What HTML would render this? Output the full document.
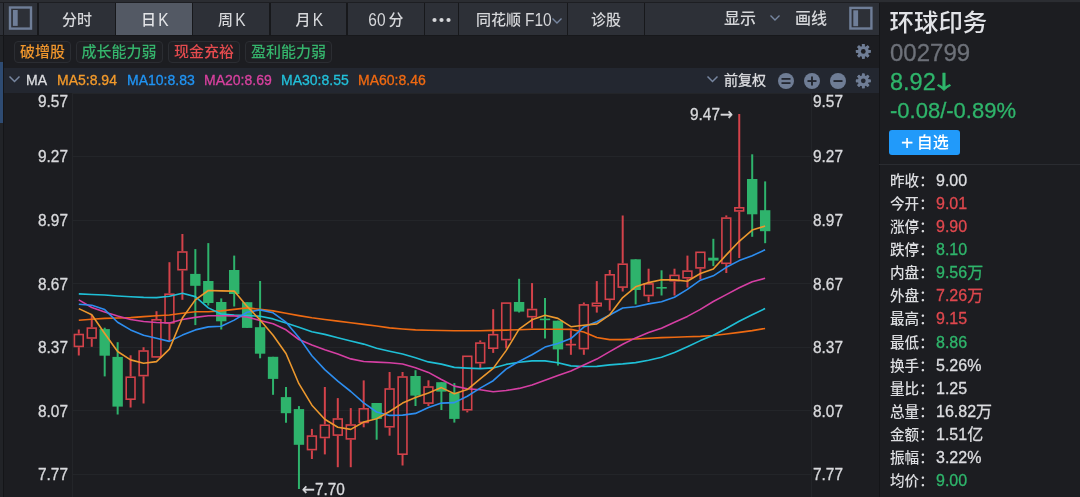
<!DOCTYPE html>
<html lang="zh-CN"><head><meta charset="utf-8"><title>环球印务 002799</title>
<style>
*{margin:0;padding:0;box-sizing:border-box}
html,body{width:1080px;height:497px;overflow:hidden;background:#1c1d21}
body{position:relative;font-family:"Liberation Sans","Noto Sans CJK SC",sans-serif;color:#d9dadd}
.ma,.yl,.st,.rp{-webkit-text-stroke:0.3px currentColor}
.abs{position:absolute}
.tb{position:absolute;top:3px;height:32px;background:#2d3037;color:#d6d7da;font-size:15px;line-height:33px;font-weight:500;text-align:center;white-space:nowrap}
.tb.sel{background:#535964;color:#e3e4e7}
.tag{position:absolute;top:41px;height:21.5px;border:1px solid #2b2d32;border-radius:4px;font-size:15px;line-height:19.5px;font-weight:500;padding:0;text-align:center;white-space:nowrap;background:#1e1f23}
.ma{position:absolute;top:68px;font-size:14px;line-height:25px;white-space:nowrap}
.yl{position:absolute;font-size:15.4px;line-height:15px;height:15px;color:#d8d9dc;white-space:nowrap;transform:scaleY(1.1);transform-origin:50% 50%}
.st{position:absolute;left:890px;font-size:16px;line-height:20px;white-space:nowrap;color:#dcdde0}
.st b{font-size:14.6px}
.st b{font-weight:500;display:inline-block;width:46px;-webkit-text-stroke:0}
.arr{font-family:'DejaVu Sans',sans-serif}
.cjarr{font-family:'Noto Sans CJK SC',sans-serif;font-weight:500;font-size:20px;line-height:26px;display:inline-block;vertical-align:top;margin-left:-1.8px;transform:translateY(-0.75px) scale(1.45,0.95)}
.lt{font-weight:normal;font-size:15.5px;display:inline-block;transform:scaleY(1.13)}
.r{color:#e0484e}.g{color:#2fb56b}.w{color:#dcdde0}
</style></head><body>

<div class="abs" style="left:0;top:0;width:1080px;height:2px;background:#2b2d32"></div>
<div class="abs" style="left:0;top:2px;width:1080px;height:1px;background:#1d1e22"></div>
<div class="abs" style="left:0;top:3px;width:879px;height:33px;background:#17181b"></div>
<div class="abs" style="left:0;top:3px;width:3px;height:32px;background:#2d3037"></div>
<div class="tb" style="left:4px;width:33px"></div>
<svg class="abs" style="left:0;top:0" width="40" height="36"><rect x="10" y="7.5" width="21" height="21.1" fill="none" stroke="#6f7e98" stroke-width="2.4"/><rect x="12.9" y="10" width="4.8" height="15.9" fill="#6f7e98"/></svg>
<div class="tb" style="left:39px;width:76px;">分时</div>
<div class="tb sel" style="left:116px;width:76px;padding-left:1.6px;">日<span class="lt" style="margin-left:2.4px">K</span></div>
<div class="tb" style="left:193px;width:76px;padding-left:1.6px;">周<span class="lt" style="margin-left:2.4px">K</span></div>
<div class="tb" style="left:271px;width:75px;padding-left:1.6px;">月<span class="lt" style="margin-left:2.4px">K</span></div>
<div class="tb" style="left:348px;width:76px;"><span class="lt" style="margin-right:3px">60</span>分</div>
<div class="tb" style="left:425px;width:33px"></div>
<svg class="abs" style="left:425px;top:3px" width="33" height="32"><circle cx="9.5" cy="17" r="2.1" fill="#d6d7da"/><circle cx="16.5" cy="17" r="2.1" fill="#d6d7da"/><circle cx="23.5" cy="17" r="2.1" fill="#d6d7da"/></svg>
<div class="tb" style="left:459px;width:108px;text-align:left;padding-left:17px">同花顺<span class="lt" style="margin-left:4px">F10</span></div>
<svg class="abs" style="left:550.5px;top:16.5px" width="12" height="8"><polyline points="1.5,1.5 6,6 10.5,1.5" fill="none" stroke="#7786a0" stroke-width="1.4"/></svg>
<div class="tb" style="left:568px;width:76px">诊股</div>
<div class="tb" style="left:645px;width:234px"></div>
<div class="abs" style="left:724px;top:3px;font-size:16px;line-height:32px;color:#d6d7da;font-weight:500">显示</div>
<svg class="abs" style="left:769px;top:14px" width="12" height="8"><polyline points="1.5,1.5 6,6 10.5,1.5" fill="none" stroke="#7786a0" stroke-width="1.4"/></svg>
<div class="abs" style="left:795px;top:3px;font-size:16px;line-height:32px;color:#d6d7da;font-weight:500">画线</div>
<svg class="abs" style="left:845px;top:0" width="33" height="36"><rect x="5.4" y="7.9" width="21" height="20.6" fill="none" stroke="#6f7e98" stroke-width="2.4"/><rect x="8.3" y="10.3" width="4.8" height="15.9" fill="#6f7e98"/></svg>
<div class="abs" style="left:0;top:36px;width:3px;height:461px;background:#212327"></div>
<div class="abs" style="left:0;top:62px;width:2.5px;height:61px;background:#2e4b72"></div>
<div class="abs" style="left:3px;top:36px;width:1px;height:461px;background:#141518"></div>
<div class="tag" style="left:14px;width:57px;color:#f0962c">破增股</div>
<div class="tag" style="left:75.5px;width:87px;color:#35b46c">成长能力弱</div>
<div class="tag" style="left:168.3px;width:71.5px;color:#e44b4e">现金充裕</div>
<div class="tag" style="left:245px;width:87px;color:#35b46c">盈利能力弱</div>
<svg class="abs" style="left:853px;top:42px" width="20" height="20"><rect x="8.95" y="2.00" width="2.7" height="14.80" rx="0.5" fill="#6f7d95" transform="rotate(0 10.3 9.4)"/><rect x="8.95" y="2.00" width="2.7" height="14.80" rx="0.5" fill="#6f7d95" transform="rotate(45 10.3 9.4)"/><rect x="8.95" y="2.00" width="2.7" height="14.80" rx="0.5" fill="#6f7d95" transform="rotate(90 10.3 9.4)"/><rect x="8.95" y="2.00" width="2.7" height="14.80" rx="0.5" fill="#6f7d95" transform="rotate(135 10.3 9.4)"/><rect x="8.95" y="2.00" width="2.7" height="14.80" rx="0.5" fill="#6f7d95" transform="rotate(180 10.3 9.4)"/><rect x="8.95" y="2.00" width="2.7" height="14.80" rx="0.5" fill="#6f7d95" transform="rotate(225 10.3 9.4)"/><rect x="8.95" y="2.00" width="2.7" height="14.80" rx="0.5" fill="#6f7d95" transform="rotate(270 10.3 9.4)"/><rect x="8.95" y="2.00" width="2.7" height="14.80" rx="0.5" fill="#6f7d95" transform="rotate(315 10.3 9.4)"/><circle cx="10.3" cy="9.4" r="5.48" fill="#6f7d95"/><circle cx="10.3" cy="9.4" r="2.37" fill="#1c1d21"/></svg>
<div class="abs" style="left:4px;top:68px;width:875px;height:25px;background:#232730"></div>
<svg class="abs" style="left:8px;top:75px" width="13" height="9"><polyline points="1.5,1.5 6.5,6.5 11.5,1.5" fill="none" stroke="#7786a0" stroke-width="1.5"/></svg>
<div class="ma" style="left:26px;color:#dcdde0">MA</div>
<div class="ma" style="left:57px;color:#f39a2b">MA5:8.94</div>
<div class="ma" style="left:127px;color:#2094f4">MA10:8.83</div>
<div class="ma" style="left:204px;color:#d8419f">MA20:8.69</div>
<div class="ma" style="left:281px;color:#22c0da">MA30:8.55</div>
<div class="ma" style="left:358px;color:#f06a12">MA60:8.46</div>
<svg class="abs" style="left:706px;top:75px" width="13" height="9"><polyline points="1.5,1.5 6.5,6.5 11.5,1.5" fill="none" stroke="#7786a0" stroke-width="1.5"/></svg>
<div class="ma" style="left:724px;color:#dcdde0">前复权</div>
<svg class="abs" style="left:776px;top:71px" width="100" height="20"><circle cx="10" cy="10" r="8" fill="#6f7d95"/><rect x="5.5" y="7" width="9" height="1.8" fill="#232730"/><rect x="5.5" y="11.2" width="9" height="1.8" fill="#232730"/><circle cx="36" cy="10" r="8" fill="#6f7d95"/><rect x="31.5" y="9.1" width="9" height="1.9" fill="#232730"/><rect x="35.05" y="5.5" width="1.9" height="9" fill="#232730"/><circle cx="62" cy="10" r="8" fill="#6f7d95"/><rect x="57.5" y="9.1" width="9" height="1.9" fill="#232730"/><rect x="85.95" y="2.40" width="2.7" height="14.80" rx="0.5" fill="#6f7d95" transform="rotate(0 87.3 9.8)"/><rect x="85.95" y="2.40" width="2.7" height="14.80" rx="0.5" fill="#6f7d95" transform="rotate(45 87.3 9.8)"/><rect x="85.95" y="2.40" width="2.7" height="14.80" rx="0.5" fill="#6f7d95" transform="rotate(90 87.3 9.8)"/><rect x="85.95" y="2.40" width="2.7" height="14.80" rx="0.5" fill="#6f7d95" transform="rotate(135 87.3 9.8)"/><rect x="85.95" y="2.40" width="2.7" height="14.80" rx="0.5" fill="#6f7d95" transform="rotate(180 87.3 9.8)"/><rect x="85.95" y="2.40" width="2.7" height="14.80" rx="0.5" fill="#6f7d95" transform="rotate(225 87.3 9.8)"/><rect x="85.95" y="2.40" width="2.7" height="14.80" rx="0.5" fill="#6f7d95" transform="rotate(270 87.3 9.8)"/><rect x="85.95" y="2.40" width="2.7" height="14.80" rx="0.5" fill="#6f7d95" transform="rotate(315 87.3 9.8)"/><circle cx="87.3" cy="9.8" r="5.48" fill="#6f7d95"/><circle cx="87.3" cy="9.8" r="2.37" fill="#232730"/></svg>
<svg class="abs" style="left:0;top:0" width="880" height="497"><line x1="72" y1="93.5" x2="811" y2="93.5" stroke="#232529" stroke-width="1"/>
<line x1="72" y1="156.5" x2="811" y2="156.5" stroke="#232529" stroke-width="1"/>
<line x1="72" y1="220.5" x2="811" y2="220.5" stroke="#232529" stroke-width="1"/>
<line x1="72" y1="283.5" x2="811" y2="283.5" stroke="#232529" stroke-width="1"/>
<line x1="72" y1="347.5" x2="811" y2="347.5" stroke="#232529" stroke-width="1"/>
<line x1="72" y1="410.5" x2="811" y2="410.5" stroke="#232529" stroke-width="1"/>
<line x1="72" y1="474.5" x2="811" y2="474.5" stroke="#232529" stroke-width="1"/>
<line x1="72.5" y1="93" x2="72.5" y2="497" stroke="#232529" stroke-width="1"/>
<line x1="811.5" y1="93" x2="811.5" y2="497" stroke="#232529" stroke-width="1"/>
<line x1="78.80" y1="329.5" x2="78.80" y2="333.7" stroke="#d3424a" stroke-width="2"/>
<line x1="78.80" y1="347.2" x2="78.80" y2="355.5" stroke="#d3424a" stroke-width="2"/>
<rect x="74.40" y="334.50" width="8.80" height="11.90" fill="none" stroke="#d3424a" stroke-width="1.6"/>
<line x1="91.75" y1="315.0" x2="91.75" y2="327.3" stroke="#d3424a" stroke-width="2"/>
<line x1="91.75" y1="338.8" x2="91.75" y2="346.8" stroke="#d3424a" stroke-width="2"/>
<rect x="87.35" y="328.10" width="8.80" height="9.90" fill="none" stroke="#d3424a" stroke-width="1.6"/>
<line x1="104.70" y1="327.7" x2="104.70" y2="376.4" stroke="#2eb36c" stroke-width="2"/>
<rect x="99.50" y="329.10" width="10.40" height="26.60" fill="#2eb36c"/>
<line x1="117.65" y1="342.2" x2="117.65" y2="414.5" stroke="#2eb36c" stroke-width="2"/>
<rect x="112.45" y="356.90" width="10.40" height="49.70" fill="#2eb36c"/>
<line x1="130.60" y1="355.3" x2="130.60" y2="376.4" stroke="#d3424a" stroke-width="2"/>
<line x1="130.60" y1="400.0" x2="130.60" y2="407.5" stroke="#d3424a" stroke-width="2"/>
<rect x="126.20" y="377.20" width="8.80" height="22.00" fill="none" stroke="#d3424a" stroke-width="1.6"/>
<line x1="143.55" y1="347.2" x2="143.55" y2="350.2" stroke="#d3424a" stroke-width="2"/>
<line x1="143.55" y1="376.4" x2="143.55" y2="403.5" stroke="#d3424a" stroke-width="2"/>
<rect x="139.15" y="351.00" width="8.80" height="24.60" fill="none" stroke="#d3424a" stroke-width="1.6"/>
<line x1="156.50" y1="311.2" x2="156.50" y2="319.0" stroke="#d3424a" stroke-width="2"/>
<line x1="156.50" y1="357.7" x2="156.50" y2="357.7" stroke="#d3424a" stroke-width="2"/>
<rect x="152.10" y="319.80" width="8.80" height="37.10" fill="none" stroke="#d3424a" stroke-width="1.6"/>
<line x1="169.45" y1="262.2" x2="169.45" y2="293.4" stroke="#d3424a" stroke-width="2"/>
<line x1="169.45" y1="323.7" x2="169.45" y2="341.2" stroke="#d3424a" stroke-width="2"/>
<rect x="165.05" y="294.20" width="8.80" height="28.70" fill="none" stroke="#d3424a" stroke-width="1.6"/>
<line x1="182.40" y1="234.0" x2="182.40" y2="251.2" stroke="#d3424a" stroke-width="2"/>
<line x1="182.40" y1="270.5" x2="182.40" y2="299.8" stroke="#d3424a" stroke-width="2"/>
<rect x="178.00" y="252.00" width="8.80" height="17.70" fill="none" stroke="#d3424a" stroke-width="1.6"/>
<line x1="195.35" y1="249.1" x2="195.35" y2="325.1" stroke="#2eb36c" stroke-width="2"/>
<rect x="190.15" y="273.90" width="10.40" height="11.90" fill="#2eb36c"/>
<line x1="208.30" y1="243.1" x2="208.30" y2="305.5" stroke="#2eb36c" stroke-width="2"/>
<rect x="203.10" y="281.00" width="10.40" height="22.00" fill="#2eb36c"/>
<line x1="221.25" y1="298.4" x2="221.25" y2="329.5" stroke="#2eb36c" stroke-width="2"/>
<rect x="216.05" y="302.00" width="10.40" height="19.30" fill="#2eb36c"/>
<line x1="234.20" y1="255.6" x2="234.20" y2="306.5" stroke="#2eb36c" stroke-width="2"/>
<rect x="229.00" y="270.00" width="10.40" height="24.00" fill="#2eb36c"/>
<line x1="247.15" y1="302.2" x2="247.15" y2="327.9" stroke="#2eb36c" stroke-width="2"/>
<rect x="241.95" y="302.20" width="10.40" height="25.70" fill="#2eb36c"/>
<line x1="260.10" y1="281.0" x2="260.10" y2="358.3" stroke="#2eb36c" stroke-width="2"/>
<rect x="254.90" y="327.20" width="10.40" height="26.50" fill="#2eb36c"/>
<line x1="273.05" y1="356.8" x2="273.05" y2="394.8" stroke="#2eb36c" stroke-width="2"/>
<rect x="267.85" y="356.80" width="10.40" height="22.10" fill="#2eb36c"/>
<line x1="286.00" y1="387.0" x2="286.00" y2="422.8" stroke="#2eb36c" stroke-width="2"/>
<rect x="280.80" y="397.10" width="10.40" height="16.10" fill="#2eb36c"/>
<line x1="298.95" y1="406.1" x2="298.95" y2="489.0" stroke="#2eb36c" stroke-width="2"/>
<rect x="293.75" y="409.10" width="10.40" height="35.70" fill="#2eb36c"/>
<line x1="311.90" y1="428.9" x2="311.90" y2="435.3" stroke="#d3424a" stroke-width="2"/>
<line x1="311.90" y1="450.4" x2="311.90" y2="459.0" stroke="#d3424a" stroke-width="2"/>
<rect x="307.50" y="436.10" width="8.80" height="13.50" fill="none" stroke="#d3424a" stroke-width="1.6"/>
<line x1="324.85" y1="387.0" x2="324.85" y2="424.4" stroke="#d3424a" stroke-width="2"/>
<line x1="324.85" y1="438.3" x2="324.85" y2="454.4" stroke="#d3424a" stroke-width="2"/>
<rect x="320.45" y="425.20" width="8.80" height="12.30" fill="none" stroke="#d3424a" stroke-width="1.6"/>
<line x1="337.80" y1="398.1" x2="337.80" y2="418.2" stroke="#d3424a" stroke-width="2"/>
<line x1="337.80" y1="435.9" x2="337.80" y2="467.2" stroke="#d3424a" stroke-width="2"/>
<rect x="333.40" y="419.00" width="8.80" height="16.10" fill="none" stroke="#d3424a" stroke-width="1.6"/>
<line x1="350.75" y1="408.1" x2="350.75" y2="424.2" stroke="#d3424a" stroke-width="2"/>
<line x1="350.75" y1="439.7" x2="350.75" y2="467.2" stroke="#d3424a" stroke-width="2"/>
<rect x="346.35" y="425.00" width="8.80" height="13.90" fill="none" stroke="#d3424a" stroke-width="1.6"/>
<line x1="363.70" y1="380.4" x2="363.70" y2="408.0" stroke="#d3424a" stroke-width="2"/>
<line x1="363.70" y1="423.2" x2="363.70" y2="427.3" stroke="#d3424a" stroke-width="2"/>
<rect x="359.30" y="408.80" width="8.80" height="13.60" fill="none" stroke="#d3424a" stroke-width="1.6"/>
<line x1="376.65" y1="403.0" x2="376.65" y2="439.7" stroke="#2eb36c" stroke-width="2"/>
<rect x="371.45" y="403.00" width="10.40" height="15.90" fill="#2eb36c"/>
<line x1="389.60" y1="372.0" x2="389.60" y2="388.2" stroke="#d3424a" stroke-width="2"/>
<line x1="389.60" y1="427.6" x2="389.60" y2="435.7" stroke="#d3424a" stroke-width="2"/>
<rect x="385.20" y="389.00" width="8.80" height="37.80" fill="none" stroke="#d3424a" stroke-width="1.6"/>
<line x1="402.55" y1="372.0" x2="402.55" y2="376.2" stroke="#d3424a" stroke-width="2"/>
<line x1="402.55" y1="455.0" x2="402.55" y2="465.5" stroke="#d3424a" stroke-width="2"/>
<rect x="398.15" y="377.00" width="8.80" height="77.20" fill="none" stroke="#d3424a" stroke-width="1.6"/>
<line x1="415.50" y1="370.2" x2="415.50" y2="406.0" stroke="#2eb36c" stroke-width="2"/>
<rect x="410.30" y="376.00" width="10.40" height="19.60" fill="#2eb36c"/>
<line x1="428.45" y1="380.3" x2="428.45" y2="386.2" stroke="#d3424a" stroke-width="2"/>
<line x1="428.45" y1="403.9" x2="428.45" y2="406.0" stroke="#d3424a" stroke-width="2"/>
<rect x="424.05" y="387.00" width="8.80" height="16.10" fill="none" stroke="#d3424a" stroke-width="1.6"/>
<line x1="441.40" y1="382.2" x2="441.40" y2="410.0" stroke="#2eb36c" stroke-width="2"/>
<rect x="436.20" y="382.20" width="10.40" height="9.40" fill="#2eb36c"/>
<line x1="454.35" y1="383.1" x2="454.35" y2="422.6" stroke="#2eb36c" stroke-width="2"/>
<rect x="449.15" y="393.00" width="10.40" height="25.90" fill="#2eb36c"/>
<line x1="467.30" y1="355.5" x2="467.30" y2="355.5" stroke="#d3424a" stroke-width="2"/>
<line x1="467.30" y1="410.6" x2="467.30" y2="412.4" stroke="#d3424a" stroke-width="2"/>
<rect x="462.90" y="356.30" width="8.80" height="53.50" fill="none" stroke="#d3424a" stroke-width="1.6"/>
<line x1="480.25" y1="340.4" x2="480.25" y2="342.3" stroke="#d3424a" stroke-width="2"/>
<line x1="480.25" y1="363.5" x2="480.25" y2="369.0" stroke="#d3424a" stroke-width="2"/>
<rect x="475.85" y="343.10" width="8.80" height="19.60" fill="none" stroke="#d3424a" stroke-width="1.6"/>
<line x1="493.20" y1="309.2" x2="493.20" y2="333.9" stroke="#d3424a" stroke-width="2"/>
<line x1="493.20" y1="349.0" x2="493.20" y2="352.9" stroke="#d3424a" stroke-width="2"/>
<rect x="488.80" y="334.70" width="8.80" height="13.50" fill="none" stroke="#d3424a" stroke-width="1.6"/>
<line x1="506.15" y1="302.3" x2="506.15" y2="302.3" stroke="#d3424a" stroke-width="2"/>
<line x1="506.15" y1="340.4" x2="506.15" y2="348.4" stroke="#d3424a" stroke-width="2"/>
<rect x="501.75" y="303.10" width="8.80" height="36.50" fill="none" stroke="#d3424a" stroke-width="1.6"/>
<line x1="519.10" y1="278.8" x2="519.10" y2="312.5" stroke="#2eb36c" stroke-width="2"/>
<rect x="513.90" y="302.00" width="10.40" height="9.60" fill="#2eb36c"/>
<line x1="532.05" y1="283.1" x2="532.05" y2="308.7" stroke="#d3424a" stroke-width="2"/>
<line x1="532.05" y1="317.5" x2="532.05" y2="328.3" stroke="#d3424a" stroke-width="2"/>
<rect x="527.65" y="309.50" width="8.80" height="7.20" fill="none" stroke="#d3424a" stroke-width="1.6"/>
<line x1="545.00" y1="298.1" x2="545.00" y2="338.4" stroke="#2eb36c" stroke-width="2"/>
<rect x="539.80" y="318.60" width="10.40" height="1.60" fill="#2eb36c"/>
<line x1="557.95" y1="320.7" x2="557.95" y2="365.5" stroke="#2eb36c" stroke-width="2"/>
<rect x="552.75" y="320.70" width="10.40" height="28.70" fill="#2eb36c"/>
<line x1="570.90" y1="330.3" x2="570.90" y2="343.8" stroke="#d3424a" stroke-width="2"/>
<line x1="570.90" y1="345.0" x2="570.90" y2="354.8" stroke="#d3424a" stroke-width="2"/>
<rect x="566.50" y="344.60" width="8.80" height="0.10" fill="none" stroke="#d3424a" stroke-width="1.6"/>
<line x1="583.85" y1="302.5" x2="583.85" y2="304.1" stroke="#d3424a" stroke-width="2"/>
<line x1="583.85" y1="349.4" x2="583.85" y2="354.8" stroke="#d3424a" stroke-width="2"/>
<rect x="579.45" y="304.90" width="8.80" height="43.70" fill="none" stroke="#d3424a" stroke-width="1.6"/>
<line x1="596.80" y1="281.1" x2="596.80" y2="302.5" stroke="#d3424a" stroke-width="2"/>
<line x1="596.80" y1="306.6" x2="596.80" y2="312.6" stroke="#d3424a" stroke-width="2"/>
<rect x="592.40" y="303.30" width="8.80" height="2.50" fill="none" stroke="#d3424a" stroke-width="1.6"/>
<line x1="609.75" y1="270.0" x2="609.75" y2="274.0" stroke="#d3424a" stroke-width="2"/>
<line x1="609.75" y1="300.1" x2="609.75" y2="310.6" stroke="#d3424a" stroke-width="2"/>
<rect x="605.35" y="274.80" width="8.80" height="24.50" fill="none" stroke="#d3424a" stroke-width="1.6"/>
<line x1="622.70" y1="215.5" x2="622.70" y2="263.4" stroke="#d3424a" stroke-width="2"/>
<line x1="622.70" y1="287.9" x2="622.70" y2="291.5" stroke="#d3424a" stroke-width="2"/>
<rect x="618.30" y="264.20" width="8.80" height="22.90" fill="none" stroke="#d3424a" stroke-width="1.6"/>
<line x1="635.65" y1="259.3" x2="635.65" y2="304.4" stroke="#2eb36c" stroke-width="2"/>
<rect x="630.45" y="259.30" width="10.40" height="30.70" fill="#2eb36c"/>
<line x1="648.60" y1="268.7" x2="648.60" y2="283.1" stroke="#d3424a" stroke-width="2"/>
<line x1="648.60" y1="296.3" x2="648.60" y2="302.0" stroke="#d3424a" stroke-width="2"/>
<rect x="644.20" y="283.90" width="8.80" height="11.60" fill="none" stroke="#d3424a" stroke-width="1.6"/>
<line x1="661.55" y1="270.3" x2="661.55" y2="295.5" stroke="#2eb36c" stroke-width="2"/>
<rect x="656.35" y="287.00" width="10.40" height="1.60" fill="#2eb36c"/>
<line x1="674.50" y1="268.7" x2="674.50" y2="274.6" stroke="#d3424a" stroke-width="2"/>
<line x1="674.50" y1="281.5" x2="674.50" y2="295.5" stroke="#d3424a" stroke-width="2"/>
<rect x="670.10" y="275.40" width="8.80" height="5.30" fill="none" stroke="#d3424a" stroke-width="1.6"/>
<line x1="687.45" y1="255.6" x2="687.45" y2="270.3" stroke="#d3424a" stroke-width="2"/>
<line x1="687.45" y1="278.6" x2="687.45" y2="287.5" stroke="#d3424a" stroke-width="2"/>
<rect x="683.05" y="271.10" width="8.80" height="6.70" fill="none" stroke="#d3424a" stroke-width="1.6"/>
<line x1="700.40" y1="251.5" x2="700.40" y2="251.5" stroke="#d3424a" stroke-width="2"/>
<line x1="700.40" y1="268.7" x2="700.40" y2="279.4" stroke="#d3424a" stroke-width="2"/>
<rect x="696.00" y="252.30" width="8.80" height="15.60" fill="none" stroke="#d3424a" stroke-width="1.6"/>
<line x1="713.35" y1="238.8" x2="713.35" y2="266.1" stroke="#2eb36c" stroke-width="2"/>
<rect x="708.15" y="257.70" width="10.40" height="2.90" fill="#2eb36c"/>
<line x1="726.30" y1="215.4" x2="726.30" y2="217.3" stroke="#d3424a" stroke-width="2"/>
<line x1="726.30" y1="264.1" x2="726.30" y2="273.0" stroke="#d3424a" stroke-width="2"/>
<rect x="721.90" y="218.10" width="8.80" height="45.20" fill="none" stroke="#d3424a" stroke-width="1.6"/>
<line x1="739.25" y1="114.0" x2="739.25" y2="207.0" stroke="#d3424a" stroke-width="2"/>
<line x1="739.25" y1="211.7" x2="739.25" y2="258.0" stroke="#d3424a" stroke-width="2"/>
<rect x="734.85" y="207.80" width="8.80" height="3.10" fill="none" stroke="#d3424a" stroke-width="1.6"/>
<line x1="752.20" y1="154.3" x2="752.20" y2="236.8" stroke="#2eb36c" stroke-width="2"/>
<rect x="747.00" y="179.00" width="10.40" height="35.30" fill="#2eb36c"/>
<line x1="765.15" y1="181.4" x2="765.15" y2="243.2" stroke="#2eb36c" stroke-width="2"/>
<rect x="759.95" y="210.20" width="10.40" height="21.00" fill="#2eb36c"/>
<polyline points="78.8,320.2 91.8,319.3 104.7,318.4 117.6,318.0 130.6,317.6 143.6,316.6 156.5,315.8 169.4,315.0 182.4,313.2 195.3,311.7 208.3,311.7 221.2,310.9 234.2,309.4 247.1,307.9 260.1,309.4 273.1,310.9 286.0,313.2 298.9,315.6 311.9,317.8 324.8,319.5 337.8,321.1 350.8,322.8 363.7,324.4 376.6,326.0 389.6,327.9 402.6,329.0 415.5,329.9 428.4,330.3 441.4,330.5 454.3,330.8 467.3,330.8 480.2,330.7 493.2,330.4 506.1,330.1 519.1,329.7 532.0,329.2 545.0,329.2 557.9,329.2 570.9,329.4 583.8,332.0 596.8,337.5 609.7,339.6 622.7,339.6 635.6,339.0 648.6,338.2 661.5,337.6 674.5,337.2 687.4,336.8 700.4,336.4 713.3,335.5 726.3,334.0 739.2,332.4 752.2,330.6 765.1,328.5" fill="none" stroke="#ee6a12" stroke-width="1.6" stroke-linejoin="round"/>
<polyline points="78.8,293.9 91.8,294.5 104.7,295.0 117.6,296.0 130.6,296.8 143.6,297.4 156.5,297.6 169.4,296.3 182.4,293.3 195.3,296.6 208.3,307.9 221.2,314.0 234.2,315.0 247.1,315.5 260.1,316.2 273.1,318.9 286.0,323.0 298.9,327.2 311.9,331.7 324.8,334.4 337.8,337.7 350.8,341.0 363.7,344.1 376.6,348.3 389.6,351.3 402.6,354.0 415.5,357.8 428.4,361.9 441.4,364.1 454.3,367.4 467.3,368.1 480.2,368.6 493.2,367.9 506.1,364.4 519.1,362.3 532.0,360.9 545.0,360.9 557.9,362.8 570.9,365.9 583.8,366.5 596.8,366.4 609.7,364.9 622.7,363.9 635.6,362.6 648.6,360.2 661.5,357.2 674.5,352.6 687.4,346.8 700.4,340.6 713.3,335.2 726.3,328.5 739.2,321.2 752.2,314.8 765.1,308.5" fill="none" stroke="#1fbfd6" stroke-width="1.6" stroke-linejoin="round"/>
<polyline points="78.8,299.9 91.8,307.5 104.7,312.0 117.6,316.0 130.6,319.5 143.6,321.5 156.5,322.5 169.4,323.0 182.4,319.5 195.3,317.4 208.3,315.8 221.2,315.8 234.2,315.9 247.1,317.0 260.1,320.4 273.1,323.8 286.0,329.8 298.9,339.5 311.9,345.0 324.8,349.8 337.8,354.0 350.8,358.9 363.7,361.5 376.6,362.1 389.6,362.7 402.6,364.0 415.5,367.8 428.4,372.4 441.4,379.5 454.3,386.1 467.3,388.8 480.2,389.8 493.2,391.8 506.1,390.5 519.1,388.4 532.0,384.9 545.0,380.2 557.9,375.5 570.9,370.9 583.8,364.9 596.8,359.1 609.7,351.6 622.7,344.3 635.6,337.9 648.6,332.6 661.5,328.2 674.5,322.2 687.4,316.4 700.4,309.4 713.3,301.5 726.3,294.6 739.2,287.8 752.2,281.8 765.1,278.3" fill="none" stroke="#d53fa3" stroke-width="1.6" stroke-linejoin="round"/>
<polyline points="78.8,304.2 91.8,305.3 104.7,309.6 117.6,322.2 130.6,329.9 143.6,335.3 156.5,338.2 169.4,341.4 182.4,335.1 195.3,329.9 208.3,326.9 221.2,326.3 234.2,320.1 247.1,312.2 260.1,309.9 273.1,312.8 286.0,322.2 298.9,337.4 311.9,355.8 324.8,369.6 337.8,381.2 350.8,391.5 363.7,402.9 376.6,412.0 389.6,415.4 402.6,415.1 415.5,413.4 428.4,407.5 441.4,403.1 454.3,402.6 467.3,396.3 480.2,388.1 493.2,380.7 506.1,369.1 519.1,361.4 532.0,354.7 545.0,347.1 557.9,343.4 570.9,338.6 583.8,327.1 596.8,321.8 609.7,315.0 622.7,308.0 635.6,306.7 648.6,303.9 661.5,301.8 674.5,297.3 687.4,289.4 700.4,280.2 713.3,275.8 726.3,267.3 739.2,260.6 752.2,255.7 765.1,249.8" fill="none" stroke="#2d8ef0" stroke-width="1.6" stroke-linejoin="round"/>
<polyline points="78.8,308.6 91.8,314.8 104.7,333.5 117.6,351.5 130.6,359.9 143.6,363.2 156.5,361.6 169.4,349.1 182.4,318.0 195.3,299.9 208.3,290.5 221.2,290.9 234.2,291.1 247.1,306.4 260.1,320.0 273.1,335.2 286.0,353.5 298.9,383.7 311.9,405.2 324.8,419.3 337.8,427.2 350.8,429.4 363.7,422.0 376.6,418.7 389.6,411.5 402.6,403.1 415.5,397.4 428.4,393.0 441.4,387.6 454.3,393.7 467.3,389.6 480.2,378.9 493.2,368.4 506.1,350.6 519.1,329.1 532.0,319.8 545.0,315.3 557.9,318.4 570.9,326.7 583.8,325.2 596.8,323.9 609.7,314.8 622.7,297.6 635.6,286.8 648.6,282.6 661.5,279.7 674.5,279.9 687.4,281.2 700.4,273.5 713.3,269.0 726.3,254.9 739.2,241.3 752.2,230.1 765.1,226.1" fill="none" stroke="#ec982e" stroke-width="1.6" stroke-linejoin="round"/></svg>
<div class="yl" style="right:1012px;top:92.8px">9.57</div>
<div class="yl" style="left:813px;top:92.8px">9.57</div>
<div class="yl" style="right:1012px;top:148.4px">9.27</div>
<div class="yl" style="left:813px;top:148.4px">9.27</div>
<div class="yl" style="right:1012px;top:212.0px">8.97</div>
<div class="yl" style="left:813px;top:212.0px">8.97</div>
<div class="yl" style="right:1012px;top:275.6px">8.67</div>
<div class="yl" style="left:813px;top:275.6px">8.67</div>
<div class="yl" style="right:1012px;top:339.2px">8.37</div>
<div class="yl" style="left:813px;top:339.2px">8.37</div>
<div class="yl" style="right:1012px;top:402.8px">8.07</div>
<div class="yl" style="left:813px;top:402.8px">8.07</div>
<div class="yl" style="right:1012px;top:466.4px">7.77</div>
<div class="yl" style="left:813px;top:466.4px">7.77</div>
<div class="yl" style="left:690px;top:106px">9.47<span class="arr">→</span></div>
<div class="yl" style="left:302px;top:480.6px"><span class="arr">←</span>7.70</div>
<div class="abs" style="left:879px;top:3px;width:1px;height:494px;background:#141518"></div>
<div class="abs" style="left:889.6px;top:7px;font-size:24.4px;line-height:32px;color:#e2e3e7;font-weight:500">环球印务</div>
<div class="abs rp" style="left:890px;top:39.5px;font-size:24px;line-height:26px;color:#6d7179">002799</div>
<div class="abs rp" style="left:890px;top:68.5px;font-size:23.5px;line-height:26px;color:#2fb56b">8.92<span class="cjarr">↓</span></div>
<div class="abs rp" style="left:890px;top:99px;font-size:22px;line-height:24px;color:#2fb56b">-0.08/-0.89%</div>
<div class="abs" style="left:889px;top:130px;width:71px;height:24.5px;background:#219afa;border-radius:3px;color:#fff;font-size:16px;line-height:25px;text-align:left;padding-left:12px;white-space:nowrap"><span style="font-size:21px;display:inline-block;vertical-align:top;line-height:25px;transform:translateY(-0.5px);-webkit-text-stroke:0.2px #fff">+</span><span style="margin-left:3.5px;font-weight:500">自选</span></div>
<div class="abs" style="left:879px;top:164px;width:201px;height:1px;background:#2a2c31"></div>
<div class="st" style="top:170.8px"><b>昨收：</b><span class="w">9.00</span></div>
<div class="st" style="top:193.9px"><b>今开：</b><span class="r">9.01</span></div>
<div class="st" style="top:217.0px"><b>涨停：</b><span class="r">9.90</span></div>
<div class="st" style="top:240.1px"><b>跌停：</b><span class="g">8.10</span></div>
<div class="st" style="top:263.2px"><b>内盘：</b><span class="g">9.56万</span></div>
<div class="st" style="top:286.3px"><b>外盘：</b><span class="r">7.26万</span></div>
<div class="st" style="top:309.4px"><b>最高：</b><span class="r">9.15</span></div>
<div class="st" style="top:332.5px"><b>最低：</b><span class="g">8.86</span></div>
<div class="st" style="top:355.6px"><b>换手：</b><span class="w">5.26%</span></div>
<div class="st" style="top:378.7px"><b>量比：</b><span class="w">1.25</span></div>
<div class="st" style="top:401.8px"><b>总量：</b><span class="w">16.82万</span></div>
<div class="st" style="top:424.9px"><b>金额：</b><span class="w">1.51亿</span></div>
<div class="st" style="top:448.0px"><b>振幅：</b><span class="w">3.22%</span></div>
<div class="st" style="top:471.1px"><b>均价：</b><span class="g">9.00</span></div>
</body></html>
